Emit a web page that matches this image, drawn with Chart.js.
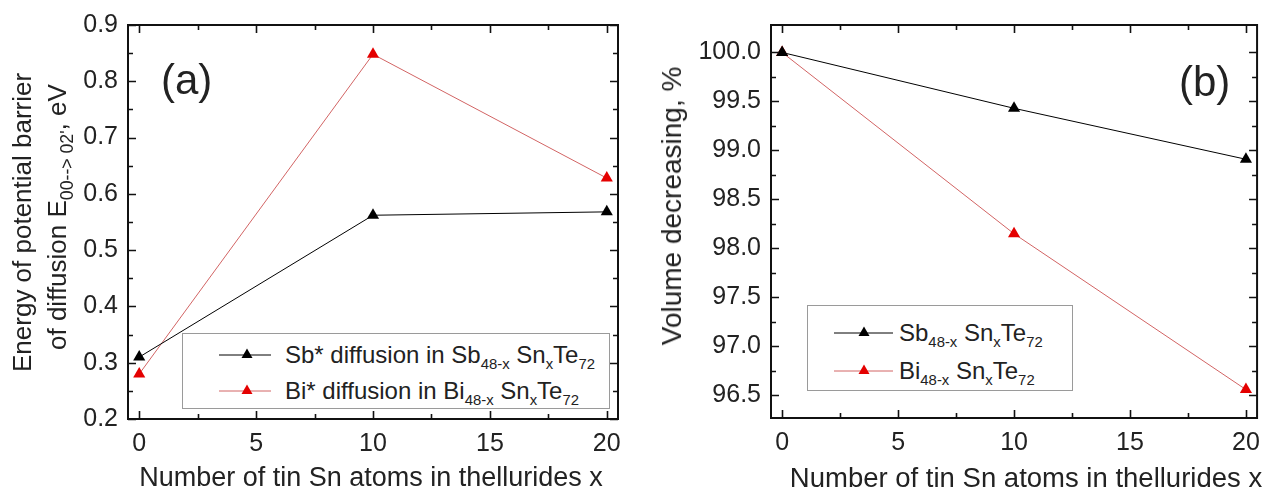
<!DOCTYPE html>
<html><head><meta charset="utf-8">
<script src="https://cdn.jsdelivr.net/npm/chart.js@4.4.1/dist/chart.umd.min.js"></script>
<style>
html,body{margin:0;padding:0;background:#fff;}
body{width:1270px;height:495px;position:relative;overflow:hidden;font-family:'Liberation Sans',Arial,sans-serif;color:#222;}
canvas{position:absolute;top:0;}
.t{position:absolute;white-space:nowrap;line-height:1;}
.sub{font-size:62%;position:relative;top:0.38em;}
.leg{position:absolute;border:1px solid #9a9a9a;box-sizing:border-box;background:#fff;}
.lt{position:absolute;font-size:24px;line-height:24px;white-space:nowrap;}
.rot{position:absolute;white-space:nowrap;transform-origin:0 0;transform:rotate(-90deg);}
</style></head>
<body>
<canvas id="ca" width="640" height="495" style="left:0"></canvas>
<canvas id="cb" width="630" height="495" style="left:640px"></canvas>

<div class="t" style="font-size:42px;left:161px;top:59px;">(a)</div>
<div class="t" style="font-size:42px;left:1179px;top:61px;">(b)</div>

<div class="rot" style="font-size:26px;line-height:26px;left:9px;top:372px;">Energy of potential barrier</div>
<div class="rot" style="font-size:26px;line-height:26px;left:44px;top:350px;">of diffusion E<span class="sub" style="font-size:68%">00--&gt; 02'</span>, eV</div>
<div class="t" style="font-size:28px;line-height:28px;left:672px;top:206px;transform:translate(-50%,-50%) rotate(-90deg);">Volume decreasing, %</div>

<div class="t" style="font-size:27px;line-height:27px;left:371px;top:464px;transform:translateX(-50%);">Number of tin Sn atoms in thellurides x</div>
<div class="t" style="font-size:27.5px;line-height:27px;left:1026px;top:464px;transform:translateX(-50%);">Number of tin Sn atoms in thellurides x</div>

<div class="leg" style="left:182px;top:333px;width:428px;height:76px;">
  <svg width="100" height="76" style="position:absolute;left:0;top:0">
    <line x1="36" y1="21" x2="88" y2="21" stroke="#000" stroke-width="1"/>
    <polygon points="64,14.5 69.5,24 58.5,24" fill="#000"/>
    <line x1="36" y1="57" x2="88" y2="57" stroke="rgb(210,100,100)" stroke-width="1"/>
    <polygon points="64,50.5 69.5,60 58.5,60" fill="rgb(228,0,0)"/>
  </svg>
  <div class="lt" style="left:102px;top:9px;">Sb* diffusion in Sb<span class="sub">48-x</span> Sn<span class="sub">x</span>Te<span class="sub">72</span></div>
  <div class="lt" style="left:102px;top:45px;">Bi* diffusion in Bi<span class="sub">48-x</span> Sn<span class="sub">x</span>Te<span class="sub">72</span></div>
</div>

<div class="leg" style="left:807px;top:305px;width:266px;height:86px;">
  <svg width="100" height="86" style="position:absolute;left:0;top:0">
    <line x1="26" y1="27" x2="85" y2="27" stroke="#000" stroke-width="1"/>
    <polygon points="56,20.5 61.5,30 50.5,30" fill="#000"/>
    <line x1="26" y1="65" x2="85" y2="65" stroke="rgb(210,100,100)" stroke-width="1"/>
    <polygon points="56,58.5 61.5,68 50.5,68" fill="rgb(228,0,0)"/>
  </svg>
  <div class="lt" style="left:91px;top:15px;">Sb<span class="sub">48-x</span> Sn<span class="sub">x</span>Te<span class="sub">72</span></div>
  <div class="lt" style="left:91px;top:53px;">Bi<span class="sub">48-x</span> Sn<span class="sub">x</span>Te<span class="sub">72</span></div>
</div>

<script>
// ---- data ----
const snAtoms = [0, 10, 20];
const sbBarrier = [0.31, 0.562, 0.568];
const biBarrier = [0.28, 0.848, 0.628];
const sbVolume = [100.0, 99.43, 98.91];
const biVolume = [100.0, 98.15, 96.56];
const xTickValues = [0, 2.5, 5, 7.5, 10, 12.5, 15, 17.5, 20];
const yTicksBarrier = [0.2,0.25,0.3,0.35,0.4,0.45,0.5,0.55,0.6,0.65,0.7,0.75,0.8,0.85,0.9];
const yTicksVolume = [96.5,96.75,97.0,97.25,97.5,97.75,98.0,98.25,98.5,98.75,99.0,99.25,99.5,99.75,100.0];

const BLACK = '#000';
const RED_LINE = 'rgb(210,100,100)';
const RED_MARK = 'rgb(228,0,0)';
const FONT = {family:"'Liberation Sans', Arial, sans-serif", size:25};

function isMajorX(v){ return Math.abs(v % 5) < 1e-9; }

const frameTicks = {
  id: 'frameTicks',
  afterDraw(chart, args, opts) {
    const {ctx, chartArea: a, scales} = chart;
    ctx.save();
    ctx.strokeStyle = '#111';
    ctx.lineWidth = 2;
    ctx.strokeRect(a.left, a.top, a.right - a.left, a.bottom - a.top);
    ctx.lineWidth = 1.6;
    ctx.beginPath();
    scales.x.ticks.forEach(t => {
      const px = Math.round(scales.x.getPixelForValue(t.value)) + 0.5;
      const len = isMajorX(t.value) ? 8 : 5;
      ctx.moveTo(px, a.bottom); ctx.lineTo(px, a.bottom - len);
      ctx.moveTo(px, a.top); ctx.lineTo(px, a.top + len);
    });
    scales.y.ticks.forEach(t => {
      const py = Math.round(scales.y.getPixelForValue(t.value)) + 0.5;
      const len = opts.isMajorY(t.value) ? 8 : 5;
      ctx.moveTo(a.left, py); ctx.lineTo(a.left + len, py);
      ctx.moveTo(a.right, py); ctx.lineTo(a.right - len, py);
    });
    ctx.stroke();
    ctx.restore();
  }
};

function makeChart(id, cfg) {
  const ds = (label, vals, line, mark) => ({
    label, data: snAtoms.map((x, i) => ({x, y: vals[i]})),
    borderColor: line, borderWidth: 1, backgroundColor: mark,
    pointStyle: 'triangle', pointRadius: 7, pointBorderWidth: 0,
    pointBackgroundColor: mark, pointBorderColor: mark, showLine: true, clip: false, tension: 0
  });
  return new Chart(document.getElementById(id), {
    type: 'scatter',
    data: { datasets: [
      ds(cfg.sbLabel, cfg.sb, BLACK, BLACK),
      ds(cfg.biLabel, cfg.bi, RED_LINE, RED_MARK)
    ]},
    options: {
      responsive: false, animation: false, devicePixelRatio: 1,
      layout: { padding: cfg.padding },
      plugins: { legend: {display: false}, tooltip: {enabled: false}, frameTicks: {isMajorY: cfg.isMajorY} },
      scales: {
        x: {
          type: 'linear', min: -0.48, max: 20.48,
          grid: {display: false, drawTicks: false}, border: {display: false},
          afterBuildTicks: s => { s.ticks = xTickValues.map(v => ({value: v})); },
          afterFit: s => { s.height = cfg.xHeight; },
          ticks: { autoSkip: false, maxRotation: 0, padding: 10, font: FONT, color: '#222',
                   callback: v => isMajorX(v) ? String(v) : '' }
        },
        y: {
          type: 'linear', min: cfg.yMin, max: cfg.yMax,
          grid: {display: false, drawTicks: false}, border: {display: false},
          afterBuildTicks: s => { s.ticks = cfg.yTicks.map(v => ({value: v})); },
          afterFit: s => { s.width = cfg.yWidth; },
          ticks: { autoSkip: false, padding: 10, font: FONT, color: '#222',
                   callback: v => cfg.isMajorY(v) ? v.toFixed(1) : '' }
        }
      }
    },
    plugins: [frameTicks]
  });
}

makeChart('ca', {
  sb: sbBarrier, bi: biBarrier, sbLabel: 'Sb* diffusion', biLabel: 'Bi* diffusion',
  yMin: 0.2, yMax: 0.9, yTicks: yTicksBarrier,
  isMajorY: v => Math.round(v * 100) % 10 === 0,
  padding: {left: 0, top: 22, right: 22, bottom: 0}, yWidth: 128, xHeight: 76
});
makeChart('cb', {
  sb: sbVolume, bi: biVolume, sbLabel: 'Sb48-x SnxTe72', biLabel: 'Bi48-x SnxTe72',
  yMin: 96.27, yMax: 100.28, yTicks: yTicksVolume,
  isMajorY: v => Math.round(v * 100) % 50 === 0,
  padding: {left: 0, top: 21, right: 7, bottom: 0}, yWidth: 131, xHeight: 77
});
</script>
</body></html>
